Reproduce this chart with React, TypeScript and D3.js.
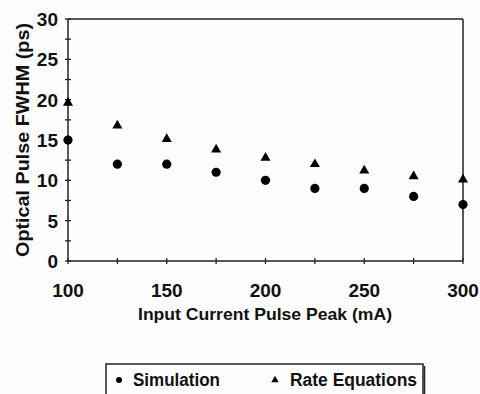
import React from "react";
import * as d3 from "d3";

const currents = [100, 125, 150, 175, 200, 225, 250, 275, 300];
const simulation = [15, 12, 12, 11, 10, 9, 9, 8, 7];
const rateEquations = [19.6, 16.8, 15.1, 13.8, 12.8, 12.0, 11.2, 10.5, 10.1];
const xTickLabels = [100, 150, 200, 250, 300];
const yTickLabels = [0, 5, 10, 15, 20, 25, 30];
const seriesNames = ["Simulation", "Rate Equations"];

const W = 480;
const H = 394;
const left = 68, right = 463, top = 19, bottom = 261;

export default function App() {
  const x = d3.scaleLinear().domain([100, 300]).range([left, right]);
  const y = d3.scaleLinear().domain([0, 30]).range([bottom, top]);
  const xMinor = d3.range(100, 301, 25);
  const yMinor = d3.range(0, 30.01, 2.5);
  const tri = d3.symbol().type(d3.symbolTriangle).size(44)();
  const triSmall = d3.symbol().type(d3.symbolTriangle).size(24)();
  const font = "'Liberation Sans', Arial, sans-serif";
  const stroke = "#222";
  return (
    <svg width={W} height={H} style={{ position: "absolute", left: 0, top: 0 }} fontFamily={font}>
      <rect x={0} y={0} width={W} height={H} fill="#fdfdfd" />
      {/* plot frame */}
      <line x1={left} x2={right} y1={top} y2={top} stroke={stroke} strokeWidth={1.5} />
      <line x1={right} x2={right} y1={top} y2={bottom} stroke={stroke} strokeWidth={1.5} />
      <line x1={left} x2={left} y1={top} y2={bottom} stroke={stroke} strokeWidth={1.5} />
      <line x1={left} x2={right} y1={bottom} y2={bottom} stroke={stroke} strokeWidth={1.5} />
      {yMinor.map((v) => (
        <line key={"yt" + v} x1={left - 3} x2={left + 3} y1={y(v)} y2={y(v)} stroke={stroke} strokeWidth={1.3} />
      ))}
      {xMinor.map((v) => (
        <line key={"xt" + v} x1={x(v)} x2={x(v)} y1={bottom - 3} y2={bottom + 3} stroke={stroke} strokeWidth={1.3} />
      ))}
      {yTickLabels.map((v) => (
        <text key={"yl" + v} x={left - 10} y={y(v)} dy="0.36em" textAnchor="end" fontSize={19} fontWeight="bold" fill="#111">
          {v}
        </text>
      ))}
      {xTickLabels.map((v) => (
        <text key={"xl" + v} x={x(v)} y={297} textAnchor="middle" fontSize={19} fontWeight="bold" fill="#111">
          {v}
        </text>
      ))}
      <text x={265} y={320} textAnchor="middle" fontSize={17} fontWeight="bold" fill="#111" textLength={254} lengthAdjust="spacingAndGlyphs">
        Input Current Pulse Peak (mA)
      </text>
      <text transform={`translate(29,140) rotate(-90)`} textAnchor="middle" fontSize={18} fontWeight="bold" fill="#111" textLength={234} lengthAdjust="spacingAndGlyphs">
        Optical Pulse FWHM (ps)
      </text>
      {/* markers */}
      {currents.map((c, i) => (
        <circle key={"s" + c} cx={x(c)} cy={y(simulation[i])} r={4.6} fill="#000" />
      ))}
      {currents.map((c, i) => (
        <path key={"r" + c} d={tri} transform={`translate(${x(c)},${y(rateEquations[i])})`} fill="#000" />
      ))}
      {/* legend */}
      <rect x={106} y={364} width={317} height={40} fill="none" stroke={stroke} strokeWidth={1.5} />
      <line x1={424.5} x2={424.5} y1={366} y2={394} stroke={stroke} strokeWidth={1.5} />
      <circle cx={119} cy={380} r={3} fill="#000" />
      <text x={133} y={386} fontSize={17.5} fontWeight="bold" fill="#111" textLength={87} lengthAdjust="spacingAndGlyphs">{seriesNames[0]}</text>
      <path d={triSmall} transform="translate(275,380)" fill="#000" />
      <text x={290} y={386} fontSize={17.5} fontWeight="bold" fill="#111" textLength={127} lengthAdjust="spacingAndGlyphs">{seriesNames[1]}</text>
    </svg>
  );
}
